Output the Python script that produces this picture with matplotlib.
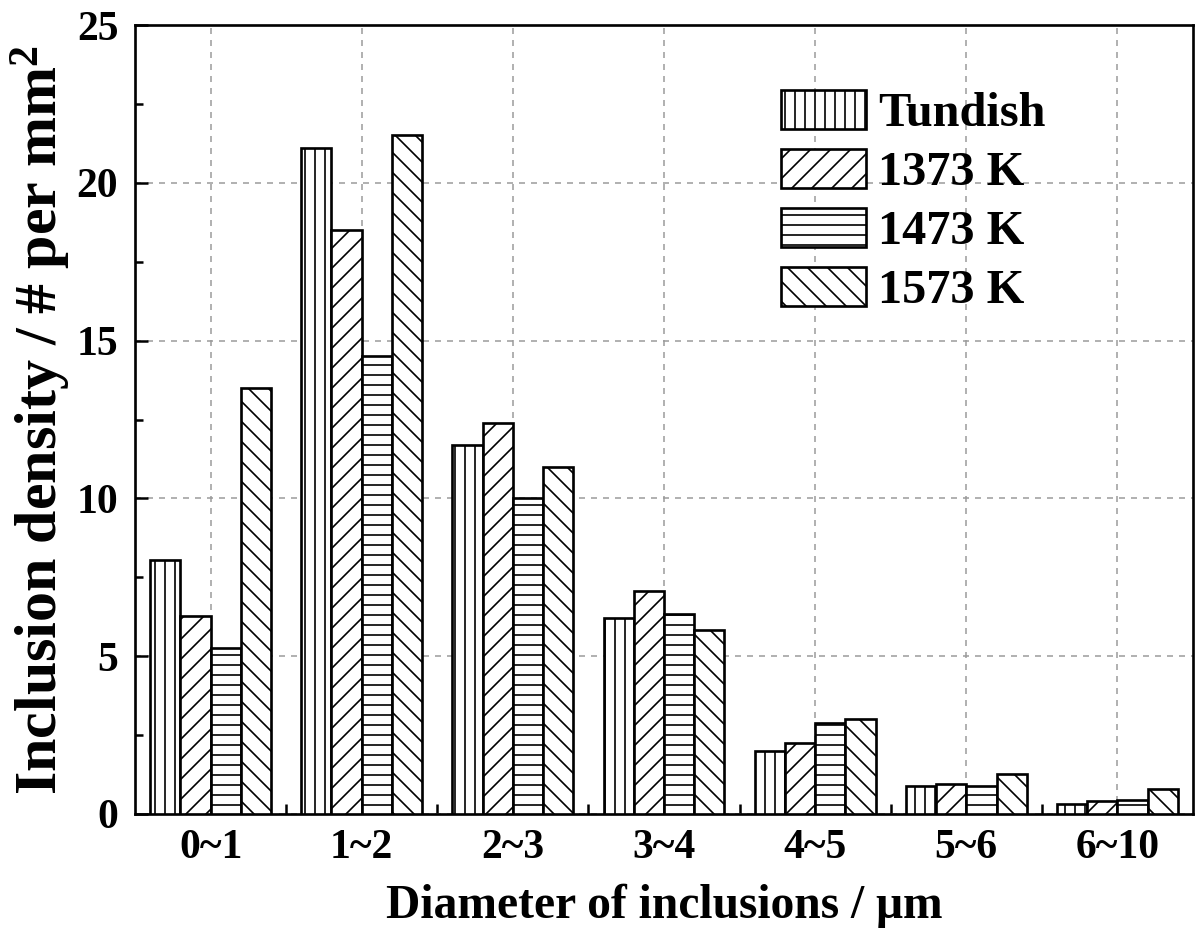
import matplotlib
matplotlib.use("Agg")
import matplotlib.pyplot as plt
import numpy as np
from matplotlib.ticker import MultipleLocator, FixedLocator

categories = ["0~1", "1~2", "2~3", "3~4", "4~5", "5~6", "6~10"]
series_names = ["Tundish", "1373 K", "1473 K", "1573 K"]
tundish = [8.05, 21.1, 11.7, 6.2, 2.0, 0.9, 0.33]
k1373 = [6.27, 18.5, 12.4, 7.08, 2.25, 0.95, 0.4]
k1473 = [5.27, 14.5, 10.0, 6.33, 2.87, 0.88, 0.45]
k1573 = [13.5, 21.5, 11.0, 5.82, 3.0, 1.27, 0.8]
series_values = [tundish, k1373, k1473, k1573]
hatches = ["||", "//", "--", "\\\\"]

plt.rcParams['font.family'] = ['Liberation Serif', 'DejaVu Serif']
plt.rcParams['font.weight'] = 'bold'
plt.rcParams['mathtext.fontset'] = 'custom'
plt.rcParams['mathtext.rm'] = 'Liberation Serif:bold'
plt.rcParams['mathtext.bf'] = 'Liberation Serif:bold'
plt.rcParams['mathtext.it'] = 'Liberation Serif:bold'
plt.rcParams['mathtext.default'] = 'bf'
plt.rcParams['hatch.linewidth'] = 1.0
plt.rcParams['hatch.color'] = '#333333'

fig = plt.figure(figsize=(10, 937/120), dpi=120)
ax = fig.add_axes([135/1200, 1-814/937, (1193-135)/1200, (814-25)/937])

x = np.arange(len(categories))
w = 0.2
for i, (name, vals, h) in enumerate(zip(series_names, series_values, hatches)):
    ax.bar(x - 0.3 + i*w, vals, width=w, facecolor='white', edgecolor='black',
           linewidth=1.6, hatch=h, label=name, zorder=3)

ax.set_xlim(-0.5, 6.5)
ax.set_ylim(0, 25)
ax.set_xticks(x)
ax.set_xticklabels(categories)
ax.xaxis.set_minor_locator(FixedLocator(np.arange(0.5, 6.5, 1.0)))
ax.yaxis.set_major_locator(MultipleLocator(5))
ax.yaxis.set_minor_locator(MultipleLocator(2.5))
ax.tick_params(axis='x', which='major', length=0, labelsize=25, pad=9)
ax.tick_params(axis='x', which='minor', direction='in', length=6, width=1.5)
ax.tick_params(axis='y', which='major', direction='in', length=8, width=1.5, labelsize=25, pad=10)
ax.tick_params(axis='y', which='minor', direction='in', length=5, width=1.5)
for s in ax.spines.values():
    s.set_linewidth(1.6)
ax.grid(True, which='major', color='#999999', linestyle=(0, (4, 4)), linewidth=0.9, zorder=0)
ax.set_axisbelow(True)

ax.set_xlabel("Diameter of inclusions / μm", fontsize=28.5, fontweight='bold', labelpad=10)
ax.set_ylabel("Inclusion density / # per mm$^2$", fontsize=36, fontweight='bold', labelpad=2)

leg = ax.legend(loc='upper right', bbox_to_anchor=(0.879, 0.942), frameon=False, fontsize=29,
                handlelength=1.75, handleheight=0.85, handletextpad=0.25, labelspacing=0.27,
                borderaxespad=0)

fig.savefig("out.png", dpi=120)
